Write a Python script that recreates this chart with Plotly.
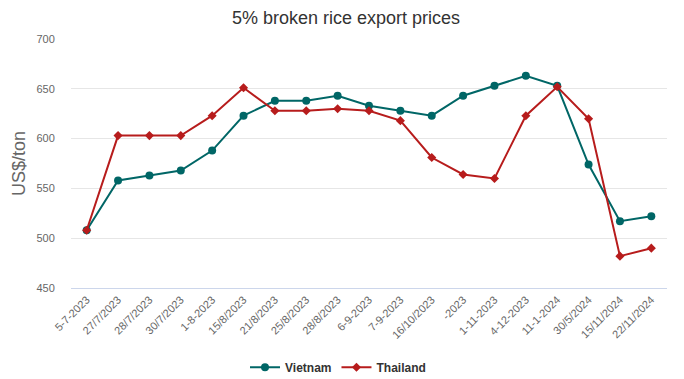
import plotly.graph_objects as go

categories = ["5-7-2023", "27/7/2023", "28/7/2023", "30/7/2023", "1-8-2023", "15/8/2023",
              "21/8/2023", "25/8/2023", "28/8/2023", "6-9-2023", "7-9-2023", "16/10/2023",
              "-2023", "1-11-2023", "4-12-2023", "11-1-2024", "30/5/2024", "15/11/2024", "22/11/2024"]
vietnam = [508, 558, 563, 568, 588, 623, 638, 638, 643, 633, 628, 623, 643, 653, 663, 653, 574, 517, 522]
thailand = [508, 603, 603, 603, 623, 651, 628, 628, 630, 628, 618, 581, 564, 560, 623, 652, 620, 482, 490]
yticks = [450, 500, 550, 600, 650, 700]

fig = go.Figure()
fig.add_trace(go.Scatter(x=categories, y=vietnam, name="Vietnam", mode="lines+markers",
                         line=dict(color="#006666", width=2),
                         marker=dict(symbol="circle", size=8, color="#006666")))
fig.add_trace(go.Scatter(x=categories, y=thailand, name="Thailand", mode="lines+markers",
                         line=dict(color="#B71C1C", width=2),
                         marker=dict(symbol="diamond", size=7, color="#B71C1C")))

fig.update_layout(
    width=676, height=371,
    paper_bgcolor="white", plot_bgcolor="white",
    margin=dict(l=63, r=17, t=31, b=91, autoexpand=False),
    title=dict(text="5% broken rice export prices", x=0.5, xanchor="center",
               yref="container", y=0.973, yanchor="middle",
               font=dict(family="Liberation Sans, Arial, sans-serif", size=18, color="#333333")),
    font=dict(family="Liberation Sans, Arial, sans-serif", color="#666666"),
    showlegend=True,
    legend=dict(orientation="h", x=0.448, xanchor="center", y=-0.26, yanchor="top",
                font=dict(size=12, color="#333333", family="Liberation Sans, Arial, sans-serif",
                          weight="bold"),
                itemwidth=30),
    xaxis=dict(type="category", tickangle=-45, tickfont=dict(size=11, color="#666666"),
               showgrid=False, showline=True, linecolor="#ccd6eb", ticks="", range=[-0.5, 18.5],
               automargin=False),
    yaxis=dict(range=[450, 700], tickvals=yticks, showgrid=True, gridcolor="#e6e6e6",
               zeroline=False, tickfont=dict(size=11, color="#666666"),
               ticks="outside", ticklen=13, tickcolor="rgba(0,0,0,0)",
               automargin=False,
               title=dict(text="US$/ton", font=dict(size=18, color="#666666"), standoff=6)),
)
fig.write_html("out.html")
